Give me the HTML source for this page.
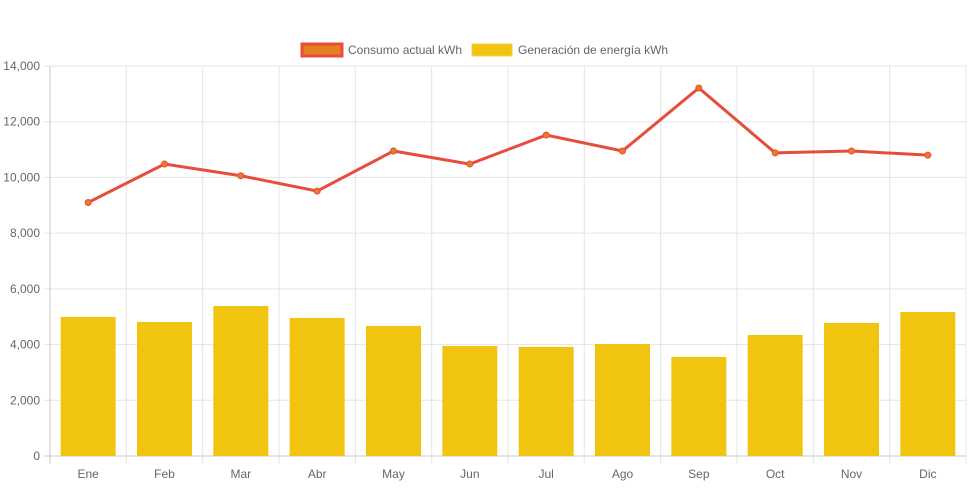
<!DOCTYPE html>
<html><head><meta charset="utf-8"><style>
body{margin:0;background:#fff;font-family:"Liberation Sans",sans-serif}
</style></head><body>
<svg id="c" width="971" height="485" xmlns="http://www.w3.org/2000/svg" font-family="Liberation Sans, sans-serif"></svg>
<script>
const categories=["Ene","Feb","Mar","Abr","May","Jun","Jul","Ago","Sep","Oct","Nov","Dic"];
const consumo=[9100,10480,10060,9510,10950,10480,11520,10950,13210,10880,10950,10800];
const generacion=[4990,4810,5385,4955,4670,3950,3915,4020,3555,4345,4775,5170];
const yTicks=[0,2000,4000,6000,8000,10000,12000,14000];
const NS="http://www.w3.org/2000/svg",svg=document.getElementById('c');
const L=50,R=966,T=66,B=456,cw=(R-L)/categories.length;
const y=v=>B-(v/14000)*(B-T), xc=i=>L+cw*(i+0.5);
function el(t,a,p){const e=document.createElementNS(NS,t);for(const k in a)e.setAttribute(k,a[k]);(p||svg).appendChild(e);return e;}
yTicks.forEach(v=>{
const g=el('line',{x1:L-6,x2:R,y1:y(v),y2:y(v),stroke:v===0?'#c8c8c8':'#e5e5e5'});


const t=el('text',{x:L-10,y:y(v)+4,'text-anchor':'end','font-size':12,fill:'#666'});
t.textContent=v.toLocaleString('en-US');


});
for(let i=0;i<=categories.length;i++){
const g=el('line',{x1:L+cw*i,x2:L+cw*i,y1:T,y2:B+8,stroke:i===0?'#c8c8c8':'#e5e5e5'});


}
categories.forEach((c,i)=>{
const t=el('text',{x:xc(i),y:478,'text-anchor':'middle','font-size':12,fill:'#666'});
t.textContent=c;


});
const bw=cw*0.72;
generacion.forEach((v,i)=>{
const b=el('rect',{x:xc(i)-bw/2,y:y(v),width:bw,height:B-y(v),fill:'#f1c40f'});


});
const pl=el('polyline',{points:consumo.map((v,i)=>xc(i)+','+y(v)).join(' '),fill:'none',stroke:'#e74c3c','stroke-width':3});


consumo.forEach((v,i)=>{
const p=el('circle',{cx:xc(i),cy:y(v),r:3,fill:'#e67e22',stroke:'#e74c3c','stroke-width':1});


});
// legend
const lg=el('g',{});


const l1=el('rect',{x:302,y:44,width:40,height:12,fill:'#e67e22',stroke:'#e74c3c','stroke-width':3},lg);


const t1=el('text',{x:348,y:54,'font-size':12,fill:'#666'},lg);t1.textContent='Consumo actual kWh';


const l2=el('rect',{x:472,y:44,width:40,height:12,fill:'#f1c40f',stroke:'#f5d142','stroke-width':1},lg);


const t2=el('text',{x:518,y:54,'font-size':12,fill:'#666'},lg);t2.textContent='Generación de energía kWh';


</script>
</body></html>
